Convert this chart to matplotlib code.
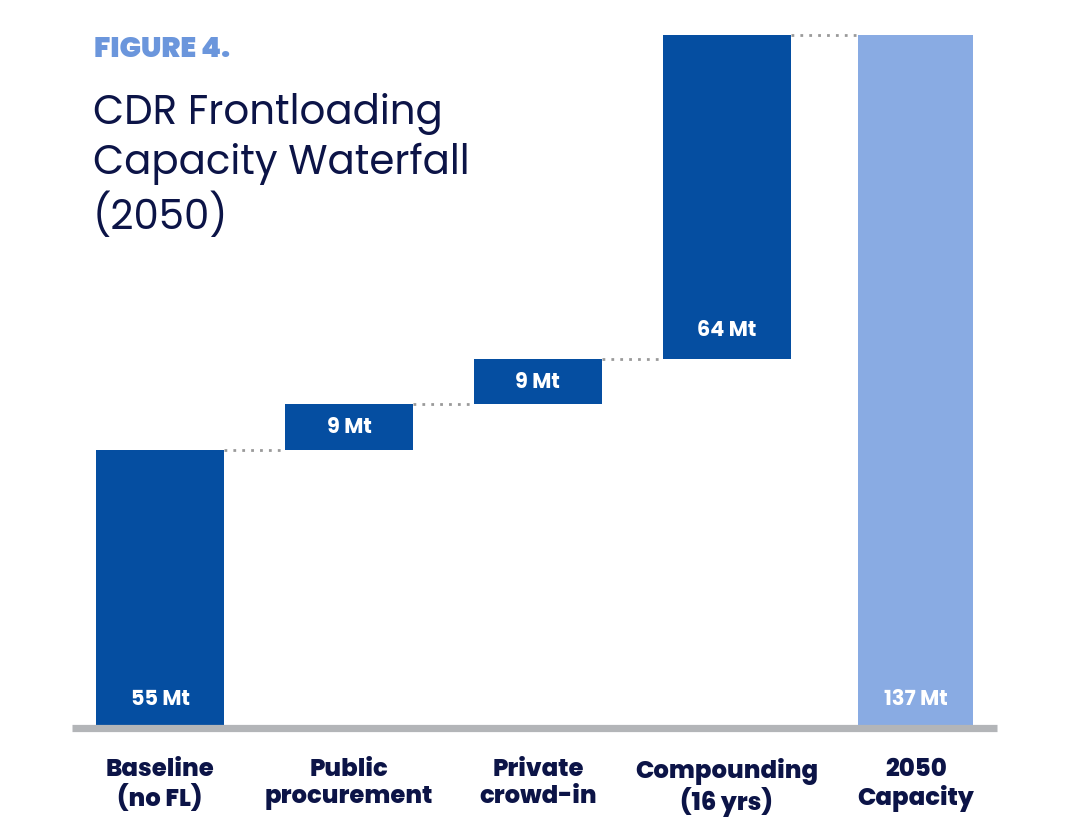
import numpy as np
import matplotlib.pyplot as plt

# Data
categories = ['Baseline\n(no FL)', 'Public\nprocurement', 'Private\ncrowd-in',
              'Compounding\n(16 yrs)', '2050\nCapacity']
steps = [55, 9, 9, 64]
total = 137
labels = ['55 Mt', '9 Mt', '9 Mt', '64 Mt', '137 Mt']

dark = '#054ea1'
light = '#89abe3'
navy = '#0c1447'
grey_line = '#b3b5b8'
dot_grey = '#9a9a9a'
FONT = 'Poppins'

# waterfall bottoms / heights
bottoms = [0] + list(np.cumsum(steps)[:-1]) + [0]
heights = steps + [total]
colors = [dark] * 4 + [light]
widths = [0.68] * 4 + [0.61]
x = np.arange(len(categories))

fig = plt.figure(figsize=(10.8, 8.37), dpi=100)
ax = fig.add_axes([72 / 1080, 1 - 729 / 837, (997 - 72) / 1080, (729 - 20) / 837])

ax.bar(x, heights, bottom=bottoms, width=widths, color=colors, zorder=1)

# dotted connectors
tops = [b + h for b, h in zip(bottoms, heights)]
for i in range(len(x) - 1):
    ax.plot([x[i] + widths[i] / 2, x[i + 1] - widths[i + 1] / 2], [tops[i], tops[i]],
            linestyle=(0, (1, 2.2)), color=dot_grey, linewidth=2, zorder=2)

# value labels
for i in range(len(x)):
    if heights[i] > 20:
        y = bottoms[i] + 5.8
    else:
        y = bottoms[i] + heights[i] / 2
    ax.text(x[i], y, labels[i], ha='center', va='center', color='white',
            fontsize=15, fontweight='bold', family=FONT, zorder=3)

ax.set_xlim(-0.466, 4.43)
ax.set_ylim(0, (729 - 20) / 5.055)
for s in ['top', 'left', 'right']:
    ax.spines[s].set_visible(False)
ax.spines['bottom'].set_color(grey_line)
ax.spines['bottom'].set_linewidth(5.2)
ax.spines['bottom'].set_capstyle('butt')
ax.spines['bottom'].set_zorder(4)
ax.set_yticks([])
ax.set_xticks(x)
ax.set_xticklabels(categories, fontsize=17.5, fontweight=800, color=navy,
                   family=FONT, linespacing=1.1)
ax.tick_params(axis='x', length=0, pad=21)

fig.text(94 / 1080, 1 - 36 / 837, 'FIGURE 4.', fontsize=20.5, fontweight=900,
         color='#6b96dc', family=FONT, ha='left', va='top')
fig.text(93 / 1080, 1 - 93 / 837, 'CDR Frontloading\nCapacity Waterfall\n(2050)',
         fontsize=29, color=navy, family=FONT, ha='left', va='top',
         linespacing=1.24)

fig.savefig('out.png', dpi=100, facecolor='white')
